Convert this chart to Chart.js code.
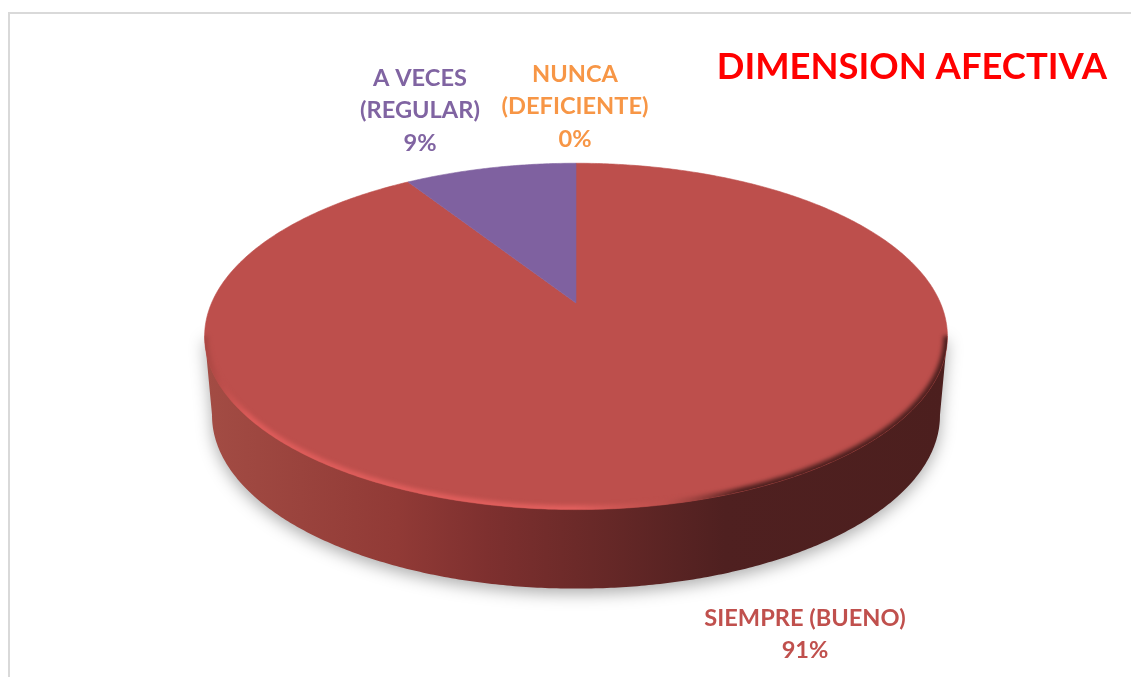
<!DOCTYPE html>
<html>
<head>
<meta charset="utf-8">
<script src="https://cdn.jsdelivr.net/npm/chart.js@4"></script>
<style>
html,body{margin:0;padding:0;background:#fff;overflow:hidden}
#frame{position:absolute;left:8px;top:12px;right:0;bottom:0;border-top:2px solid #d9d9d9;border-left:2px solid #d9d9d9}
canvas{position:absolute;left:0;top:0}
</style>
</head>
<body>
<div id="frame"></div>
<canvas id="c" width="1131" height="677"></canvas>
<script>
const chartTitle = 'DIMENSION AFECTIVA';
const categories = [['SIEMPRE (BUENO)'], ['A VECES', '(REGULAR)'], ['NUNCA', '(DEFICIENTE)']];
const values = [91, 9, 0];
const sliceColors = ['#bd4f4c', '#7f61a0', '#f79646'];
const labelColors = ['#c0504d', '#8064a2', '#f79646'];

// Label centres and line height, one per category
const labelAnchors = [{x: 805, y: 618}, {x: 420, y: 78}, {x: 575, y: 74}];
const labelLineHeight = 32.5;
const labelFont = 'bold 23.6px Lato';

// Perspective view of the pie: scale factors relative to the library's radius
const view = {sx: 365 / 214.66, sy: 167 / 214.66, k: -0.193, depth: 79, baseScale: 0.98};

function project(arc, angle, r) {
  const R = r === undefined ? arc.outerRadius : r;
  const u = Math.cos(angle) * R, v = Math.sin(angle) * R;
  const w = 1 + view.k * (v / arc.outerRadius);
  return {x: arc.x + view.sx * u / w, y: arc.y + view.sy * v / w};
}

// Slices drawn from the library's own arc geometry, through the perspective
Chart.ArcElement.prototype.draw = function (ctx) {
  const {startAngle, endAngle} = this;
  if (endAngle - startAngle <= 0) return;
  const o = this.options;
  const steps = Math.max(4, Math.ceil((endAngle - startAngle) / 0.01));
  ctx.save();
  ctx.beginPath();
  const c = project(this, 0, 0);
  ctx.moveTo(c.x, c.y);
  for (let i = 0; i <= steps; i++) {
    const p = project(this, startAngle + (endAngle - startAngle) * i / steps);
    ctx.lineTo(p.x, p.y);
  }
  ctx.closePath();
  ctx.fillStyle = o.backgroundColor;
  ctx.fill();
  ctx.strokeStyle = o.backgroundColor;
  ctx.lineWidth = 0.6;
  ctx.stroke();
  ctx.restore();
};

function rimPoints(arc) {
  const pts = [];
  for (let i = 0; i <= 720; i++) pts.push(project(arc, i / 720 * 2 * Math.PI));
  return pts;
}
function trace(ctx, pts, close) {
  ctx.beginPath();
  pts.forEach((p, i) => i ? ctx.lineTo(p.x, p.y) : ctx.moveTo(p.x, p.y));
  if (close) ctx.closePath();
}

const pie3d = {
  id: 'pie3d',
  beforeDatasetsDraw(chart) {
    const ctx = chart.ctx, arc = chart.getDatasetMeta(0).data[0];
    const rim = rimPoints(arc);
    const base = rim.map(p => ({x: arc.x + (p.x - arc.x) * view.baseScale, y: p.y + view.depth}));
    const xs = rim.map(p => p.x), left = Math.min(...xs), right = Math.max(...xs);
    const iL = xs.indexOf(left), iR = xs.indexOf(right);
    const hull = [rim[iR], ...base.slice(iR, iL + 1), rim[iL]];
    const g = ctx.createLinearGradient(left, 0, right, 0);
    g.addColorStop(0, '#a34c44');
    g.addColorStop(0.26, '#913a36');
    g.addColorStop(0.38, '#7e302f');
    g.addColorStop(0.5, '#6c2a29');
    g.addColorStop(0.7, '#4f2020');
    g.addColorStop(1, '#4c1f1e');
    ctx.save();
    ctx.shadowColor = 'rgba(0,0,0,0.32)';
    ctx.shadowBlur = 16;
    ctx.shadowOffsetY = 5;
    ctx.fillStyle = g;
    trace(ctx, hull, true);
    ctx.fill();
    ctx.restore();
  },
  afterDatasetsDraw(chart) {
    const ctx = chart.ctx, arc = chart.getDatasetMeta(0).data[0];
    const rim = rimPoints(arc);
    const xs = rim.map(p => p.x), left = Math.min(...xs), right = Math.max(...xs);
    const iL = xs.indexOf(left), iR = xs.indexOf(right);
    const front = rim.slice(iR, iL + 1);
    const g = ctx.createLinearGradient(left, 0, right, 0);
    g.addColorStop(0, 'rgba(168,70,66,1)');
    g.addColorStop(0.06, 'rgba(222,92,90,1)');
    g.addColorStop(0.5, 'rgba(226,96,94,1)');
    g.addColorStop(0.62, 'rgba(190,80,76,0.6)');
    g.addColorStop(0.72, 'rgba(76,31,30,1)');
    g.addColorStop(1, 'rgba(76,31,30,1)');
    ctx.save();
    trace(ctx, rim, true);
    ctx.clip();
    ctx.filter = 'blur(2px)';
    ctx.strokeStyle = g;
    ctx.lineWidth = 8;
    trace(ctx, front, false);
    ctx.stroke();
    ctx.restore();
  },
  afterDraw(chart) {
    const ctx = chart.ctx;
    const total = values.reduce((a, b) => a + b, 0);
    ctx.save();
    ctx.font = labelFont;
    ctx.textAlign = 'center';
    ctx.textBaseline = 'middle';
    categories.forEach((lines, i) => {
      ctx.fillStyle = labelColors[i];
      const a = labelAnchors[i];
      [...lines, Math.round(values[i] / total * 100) + '%'].forEach((t, j) => {
        ctx.fillText(t, a.x, a.y + j * labelLineHeight);
      });
    });
    ctx.restore();
  }
};

new Chart(document.getElementById('c'), {
  type: 'pie',
  data: {
    labels: categories,
    datasets: [{data: values, backgroundColor: sliceColors, borderWidth: 0}]
  },
  plugins: [pie3d],
  options: {
    responsive: false,
    animation: false,
    rotation: 0,
    layout: {padding: {left: 45, right: 24, top: 0, bottom: 159.68}},
    plugins: {
      legend: {display: false},
      tooltip: {enabled: false},
      title: {
        display: true,
        text: chartTitle,
        align: 'end',
        color: '#ff0000',
        font: {family: 'Lato', size: 36.4, weight: 'bold', lineHeight: 1.2},
        padding: {top: 45, bottom: 0}
      }
    }
  }
});
</script>
</body>
</html>
